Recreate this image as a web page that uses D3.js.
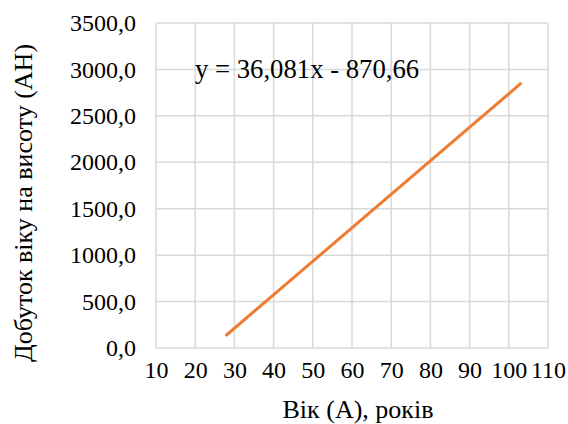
<!DOCTYPE html>
<html>
<head>
<meta charset="utf-8">
<script src="https://cdn.jsdelivr.net/npm/d3@7"></script>
<style>
  body { margin: 0; background: #fff; }
</style>
</head>
<body>
<svg id="chart"></svg>
<script>
// values
var ages = [28, 103];
var products = [140, 2846];
var xTicks = [10, 20, 30, 40, 50, 60, 70, 80, 90, 100, 110];
var yTicks = [0, 500, 1000, 1500, 2000, 2500, 3000, 3500];
var equation = "y = 36,081x - 870,66";
var xTitle = "Вік (А), років";
var yTitle = "Добуток віку на висоту (АН)";

var serif = "Liberation Serif";

var width = 568, height = 424;
var margin = { top: 23, right: 20, bottom: 76, left: 156 };
var w = width - margin.left - margin.right,
  h = height - margin.top - margin.bottom;

var svg = d3.select("#chart").attr("width", width).attr("height", height);
var g = svg.append("g")
  .attr("transform", "translate(" + margin.left + "," + margin.top + ")");

var x = d3.scaleLinear().domain([10, 110]).range([0, w]);
var y = d3.scaleLinear().domain([0, 3500]).range([h, 0]);

var fmt = function (d) { return d3.format(".1f")(d).replace(".", ","); };

// grid
g.selectAll("line.hgrid")
  .data(yTicks)
  .enter()
  .append("line")
  .attr("class", "hgrid")
  .attr("x1", 0).attr("x2", w)
  .attr("y1", function (d) { return y(d); })
  .attr("y2", function (d) { return y(d); })
  .attr("stroke", "#d9d9d9")
  .attr("stroke-width", 1.5);

g.selectAll("line.vgrid")
  .data(xTicks)
  .enter()
  .append("line")
  .attr("class", "vgrid")
  .attr("y1", 0).attr("y2", h)
  .attr("x1", function (d) { return x(d); })
  .attr("x2", function (d) { return x(d); })
  .attr("stroke", "#d9d9d9")
  .attr("stroke-width", 1.5);

// axes (labels only)
var yAxis = g.append("g")
  .call(d3.axisLeft(y).tickValues(yTicks).tickFormat(fmt).tickSize(0).tickPadding(20));
yAxis.select(".domain").remove();
yAxis.selectAll("text")
  .attr("font-family", serif)
  .attr("font-size", 24)
  .attr("fill", "#000");

var xAxis = g.append("g")
  .attr("transform", "translate(0," + h + ")")
  .call(d3.axisBottom(x).tickValues(xTicks).tickFormat(d3.format("d")).tickSize(0).tickPadding(13));
xAxis.select(".domain").remove();
xAxis.selectAll("text")
  .attr("font-family", serif)
  .attr("font-size", 24)
  .attr("fill", "#000");

// series
var pts = ages.map(function (a, i) { return [a, products[i]]; });
g.append("path")
  .datum(pts)
  .attr("fill", "none")
  .attr("stroke", "#ed7d31")
  .attr("stroke-width", 3)
  .attr("stroke-linecap", "round")
  .attr("d", d3.line()
    .x(function (d) { return x(d[0]); })
    .y(function (d) { return y(d[1]); }));

// equation label
svg.append("text")
  .attr("x", 195)
  .attr("y", 78)
  .attr("font-family", serif)
  .attr("font-size", 26.7)
  .text(equation);

// axis titles
svg.append("text")
  .attr("x", 358)
  .attr("y", 418)
  .attr("text-anchor", "middle")
  .attr("font-family", serif)
  .attr("font-size", 26)
  .text(xTitle);

svg.append("text")
  .attr("transform", "translate(32,203) rotate(-90)")
  .attr("text-anchor", "middle")
  .attr("font-family", serif)
  .attr("font-size", 26)
  .text(yTitle);
</script>
</body>
</html>
